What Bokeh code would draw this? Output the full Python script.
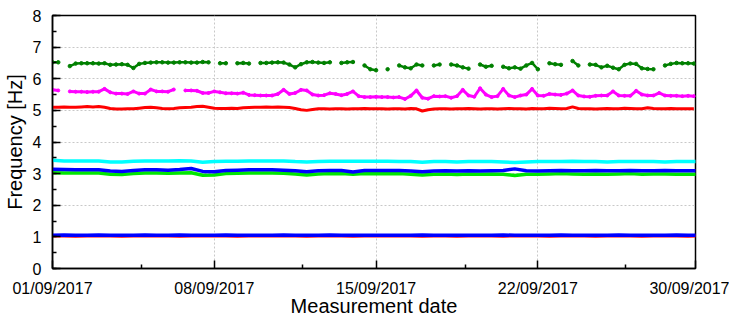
import numpy as np
from bokeh.plotting import figure
from bokeh.models import Range1d, FixedTicker, SingleIntervalTicker
from bokeh.embed import file_html
from bokeh.resources import INLINE

nan = np.nan

# time grids (days since 01/09/2017)
days_q = np.arange(112) * 0.25
days_h = np.arange(57) * 0.5

# x-axis ticks and labels
x_tick_days = [0, 7, 14, 21, 27.82]
x_tick_labels = ["01/09/2017", "08/09/2017", "15/09/2017", "22/09/2017", "30/09/2017"]
x_minor_days = [3.85, 10.8, 17.86, 24.8]

# mode 7 (dark green), 0.25-day samples
f_darkgreen = [6.52, 6.52, nan, 6.40, 6.48, 6.49, 6.49, 6.49, 6.48, 6.49,
               6.44, 6.45, 6.46, 6.44, 6.34, 6.47, 6.50, 6.51, 6.52, 6.52,
               6.51, 6.51, 6.52, 6.52, 6.51, 6.51, 6.53, 6.52, nan, 6.49,
               6.49, nan, 6.49, 6.50, 6.48, nan, 6.50, 6.50, 6.51, 6.52,
               6.51, 6.45, 6.36, 6.46, 6.52, 6.53, 6.51, 6.50, 6.52, nan,
               6.50, 6.52, 6.53, nan, 6.42, 6.30, 6.27, nan, 6.30, nan,
               6.42, 6.36, 6.33, 6.45, 6.42, nan, 6.42, 6.45, nan, 6.45,
               6.42, 6.36, 6.32, nan, 6.45, 6.38, 6.41, nan, 6.38, 6.33,
               6.36, 6.32, 6.42, 6.50, 6.30, nan, 6.49, 6.46, 6.44, nan,
               6.56, 6.42, nan, 6.45, 6.44, 6.36, 6.41, 6.35, 6.30, 6.44,
               6.48, 6.47, 6.33, 6.31, 6.30, nan, 6.42, 6.47, 6.50, 6.49,
               6.49, 6.48]

# mode 6 (magenta), 0.25-day samples
f_magenta = [5.65, 5.63, nan, 5.60, 5.59, 5.59, 5.58, 5.59, 5.59, 5.68,
             5.57, 5.53, 5.53, 5.52, 5.60, 5.53, 5.53, 5.66, 5.60, 5.60,
             5.59, 5.66, nan, 5.63, 5.63, 5.62, 5.55, 5.55, 5.60, 5.57,
             5.54, 5.54, 5.53, 5.56, 5.49, 5.48, 5.47, 5.47, 5.47, 5.52,
             5.65, 5.52, 5.55, 5.65, 5.63, 5.50, 5.47, 5.48, 5.54, 5.52,
             5.48, 5.52, 5.60, 5.45, 5.42, 5.42, 5.43, 5.42, 5.42, 5.41,
             5.42, 5.36, 5.46, 5.63, 5.40, 5.37, 5.45, 5.44, 5.45, 5.40,
             5.45, 5.65, 5.47, 5.43, 5.70, 5.50, 5.42, 5.45, 5.68, 5.47,
             5.42, 5.47, 5.50, 5.68, 5.47, 5.46, 5.52, 5.50, 5.49, 5.53,
             5.63, 5.47, 5.44, 5.43, 5.46, 5.47, 5.47, 5.60, 5.47, 5.46,
             5.46, 5.62, 5.50, 5.47, 5.47, 5.55, 5.47, 5.46, 5.46, 5.45,
             5.46, 5.45]

# mode 5 (red), 0.25-day samples
f_red = [5.10, 5.10, 5.11, 5.10, 5.10, 5.11, 5.12, 5.11, 5.12,
         5.10, 5.06, 5.04, 5.04, 5.05, 5.05,
         5.07, 5.09, 5.10, 5.08, 5.06, 5.05,
         5.06, 5.08, 5.09, 5.10, 5.12, 5.13,
         5.10, 5.07, 5.06, 5.06, 5.07, 5.06,
         5.08, 5.09, 5.10, 5.10, 5.11, 5.10,
         5.11, 5.10, 5.09, 5.06, 5.02, 5.00,
         5.03, 5.05, 5.05, 5.04, 5.05, 5.05,
         5.04, 5.05, 5.05, 5.06, 5.05, 5.05,
         5.05, 5.04, 5.05, 5.05, 5.04, 5.06,
         5.05, 4.98, 5.02, 5.04, 5.05, 5.05,
         5.04, 5.05, 5.05, 5.06, 5.05, 5.04,
         5.05, 5.05, 5.04, 5.05, 5.06, 5.05,
         5.05, 5.04, 5.06, 5.05, 5.05, 5.07,
         5.06, 5.05, 5.06, 5.11, 5.06, 5.05,
         5.05, 5.04, 5.05, 5.06, 5.05, 5.05,
         5.07, 5.06, 5.05, 5.05, 5.08, 5.06,
         5.05, 5.05, 5.06, 5.05, 5.05, 5.05,
         5.05]

# mode 4 (cyan), 0.5-day samples
f_cyan = [3.42, 3.40, 3.40, 3.40, 3.40, 3.37, 3.37, 3.39, 3.40, 3.40,
          3.40, 3.41, 3.40, 3.36, 3.38, 3.39, 3.39, 3.40, 3.40, 3.40,
          3.40, 3.38, 3.37, 3.38, 3.39, 3.39, 3.39, 3.39, 3.39, 3.39,
          3.38, 3.38, 3.36, 3.38, 3.38, 3.37, 3.38, 3.38, 3.38, 3.37,
          3.35, 3.37, 3.38, 3.38, 3.38, 3.39, 3.38, 3.38, 3.37, 3.38,
          3.38, 3.38, 3.38, 3.37, 3.38, 3.38, 3.38]

# mode 3 (blue), 0.5-day samples
f_blue3 = [3.14, 3.13, 3.12, 3.12, 3.12, 3.08, 3.07, 3.10, 3.12, 3.12,
           3.11, 3.13, 3.16, 3.07, 3.06, 3.10, 3.11, 3.12, 3.12, 3.12,
           3.11, 3.09, 3.06, 3.09, 3.10, 3.10, 3.05, 3.10, 3.10, 3.10,
           3.10, 3.08, 3.06, 3.08, 3.09, 3.08, 3.09, 3.08, 3.09, 3.10,
           3.15, 3.09, 3.08, 3.09, 3.10, 3.09, 3.09, 3.10, 3.09, 3.09,
           3.10, 3.09, 3.09, 3.10, 3.09, 3.09, 3.09]

# mode 2 (green), 0.5-day samples
f_green3 = [3.03, 3.02, 3.02, 3.02, 3.02, 2.98, 2.97, 3.00, 3.02, 3.02,
            3.01, 3.02, 3.03, 2.95, 2.96, 3.00, 3.01, 3.02, 3.02, 3.02,
            3.01, 2.99, 2.96, 2.99, 3.00, 3.00, 2.98, 3.00, 3.00, 3.00,
            3.00, 2.98, 2.96, 2.98, 2.99, 2.97, 2.99, 2.98, 2.99, 2.98,
            2.94, 2.98, 2.98, 2.99, 3.00, 2.99, 2.98, 2.99, 2.98, 2.99,
            3.00, 2.98, 2.99, 2.99, 2.98, 2.98, 2.98]

# mode 1 (blue and red), 0.5-day samples
f_blue1 = [1.05, 1.06, 1.05, 1.05, 1.06, 1.05, 1.05, 1.05, 1.06, 1.05,
           1.05, 1.06, 1.05, 1.05, 1.05, 1.06, 1.05, 1.05, 1.05, 1.05,
           1.06, 1.05, 1.05, 1.05, 1.06, 1.05, 1.05, 1.05, 1.05, 1.05,
           1.05, 1.05, 1.06, 1.05, 1.05, 1.05, 1.05, 1.05, 1.05, 1.06,
           1.05, 1.05, 1.05, 1.05, 1.06, 1.05, 1.05, 1.05, 1.05, 1.06,
           1.05, 1.05, 1.05, 1.05, 1.06, 1.05, 1.05]
f_red1 = [1.03, 1.03, 1.02, 1.03, 1.03, 1.03, 1.02, 1.03, 1.03, 1.03,
          1.03, 1.02, 1.03, 1.03, 1.03, 1.03, 1.02, 1.03, 1.03, 1.03,
          1.03, 1.03, 1.02, 1.03, 1.03, 1.03, 1.02, 1.03, 1.03, 1.03,
          1.03, 1.03, 1.02, 1.03, 1.03, 1.02, 1.03, 1.03, 1.03, 1.02,
          1.03, 1.03, 1.03, 1.02, 1.03, 1.03, 1.03, 1.02, 1.03, 1.03,
          1.03, 1.02, 1.03, 1.03, 1.03, 1.02, 1.03]

FONT = "Liberation Sans"

p = figure(frame_width=643, frame_height=253, output_backend="svg", toolbar_location=None,
           x_range=Range1d(0, 27.82), y_range=Range1d(0, 8),
           min_border_left=46, min_border_right=34, min_border_top=15, min_border_bottom=40)
p.background_fill_color = "white"
p.border_fill_color = "white"
p.outline_line_color = "black"
p.outline_line_width = 1.5
p.outline_line_alpha = 1.0

# series
p.line(days_h, np.array(f_red1), color="#ff0000", line_width=3)
p.line(days_h, np.array(f_blue1), color="#0000ff", line_width=3.5)
p.line(days_h, np.array(f_green3), color="#00e600", line_width=3.5)
p.line(days_h, np.array(f_blue3), color="#0000ff", line_width=3.5)
p.line(days_h, np.array(f_cyan), color="#00ffff", line_width=3.5)
p.line(days_q, np.array(f_red), color="#ff0000", line_width=3)
p.line(days_q, np.array(f_magenta), color="#ff00ff", line_width=3)
p.scatter(days_q, np.array(f_magenta), color="#ff00ff", size=3)
p.line(days_q, np.array(f_darkgreen), color="#008000", line_width=2.5)
p.scatter(days_q, np.array(f_darkgreen), color="#008000", size=3.5)

# axes
p.xaxis.ticker = FixedTicker(ticks=x_tick_days, minor_ticks=x_minor_days)
p.xaxis.major_label_overrides = dict(zip(x_tick_days, x_tick_labels))
p.yaxis.ticker = SingleIntervalTicker(interval=1, num_minor_ticks=2)

for ax in (p.xaxis[0], p.yaxis[0]):
    ax.axis_line_color = "black"
    ax.axis_line_width = 1.5
    ax.major_tick_in = 8
    ax.major_tick_out = 0
    ax.minor_tick_in = 4
    ax.minor_tick_out = 0
    ax.major_tick_line_color = "black"
    ax.major_tick_line_width = 1.5
    ax.minor_tick_line_color = "black"
    ax.minor_tick_line_width = 1.5
    ax.major_label_text_font = FONT
    ax.major_label_text_font_size = "16px"
    ax.major_label_text_color = "black"
    ax.axis_label_text_font = FONT
    ax.axis_label_text_font_size = "20px"
    ax.axis_label_text_font_style = "normal"
    ax.axis_label_text_color = "black"

p.xaxis.axis_label = "Measurement date"
p.yaxis.axis_label = "Frequency [Hz]"
p.xaxis.major_label_standoff = 11
p.xaxis.axis_label_standoff = -5
p.yaxis.major_label_standoff = 11
p.yaxis.axis_label_standoff = 4

p.xgrid.grid_line_color = "#c8c8c8"
p.xgrid.grid_line_dash = "2 2"
p.xgrid.grid_line_width = 1
p.ygrid.grid_line_color = "#c8c8c8"
p.ygrid.grid_line_dash = "2 2"
p.ygrid.grid_line_width = 1

open("out.html", "w").write(file_html(p, INLINE))
